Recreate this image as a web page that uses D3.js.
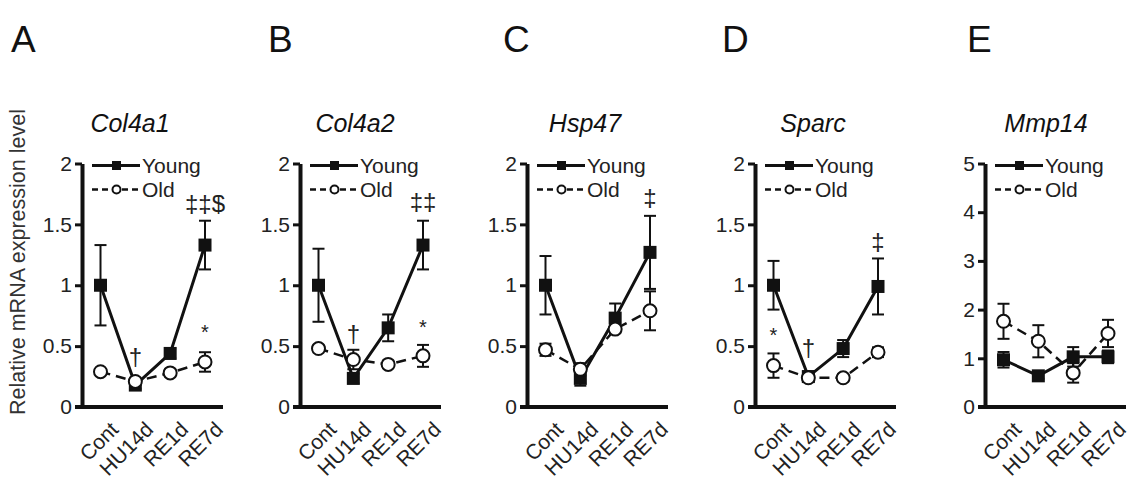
<!DOCTYPE html>
<html>
<head>
<meta charset="utf-8">
<script src="https://cdn.jsdelivr.net/npm/d3@7"></script>
<style>
  html, body { margin: 0; padding: 0; background: #fff; }
  svg { display: block; font-family: "Liberation Sans", Arial, sans-serif; }
</style>
</head>
<body>
<svg id="chart" width="1148" height="491"></svg>
<script>
// ---------- data ----------
const categories = ["Cont", "HU14d", "RE1d", "RE7d"];
const genes = ["Col4a1", "Col4a2", "Hsp47", "Sparc", "Mmp14"];
const panelLetters = ["A", "B", "C", "D", "E"];
const yMaxes = [2, 2, 2, 2, 5];
const yTicksSmall = [0, 0.5, 1, 1.5, 2];
const yTicksLarge = [0, 1, 2, 3, 4, 5];
const seriesNames = ["Young", "Old"];
const yLabel = "Relative mRNA expression level";

const youngMean = [
  [1.00, 0.18, 0.44, 1.33],
  [1.00, 0.235, 0.65, 1.33],
  [1.00, 0.235, 0.73, 1.27],
  [1.00, 0.25, 0.48, 0.99],
  [0.97, 0.64, 1.03, 1.03]
];
const youngErr = [
  [0.33, 0.03, 0.04, 0.20],
  [0.30, 0.04, 0.11, 0.20],
  [0.24, 0.06, 0.12, 0.30],
  [0.20, 0.04, 0.07, 0.23],
  [0.16, 0.06, 0.20, 0.13]
];
const oldMean = [
  [0.29, 0.21, 0.28, 0.37],
  [0.48, 0.39, 0.35, 0.42],
  [0.47, 0.31, 0.64, 0.79],
  [0.34, 0.24, 0.24, 0.45],
  [1.76, 1.35, 0.70, 1.51]
];
const oldErr = [
  [0.02, 0.03, 0.03, 0.08],
  [0.03, 0.08, 0.03, 0.09],
  [0.05, 0.05, 0.03, 0.16],
  [0.10, 0.03, 0.03, 0.04],
  [0.36, 0.33, 0.20, 0.28]
];
// significance marks: [text, category index, value position]
const marks = [
  [["\u2020", 1, 0.41], ["\u2021\u2021$", 3, 1.67], ["*", 3, 0.62]],
  [["\u2020", 1, 0.60], ["\u2021\u2021", 3, 1.69], ["*", 3, 0.66]],
  [["\u2021", 3, 1.72]],
  [["*", 0, 0.59], ["\u2020", 1, 0.49], ["\u2021", 3, 1.36]],
  []
];

// ---------- layout ----------
const axisXs = [82, 300, 527, 755, 985];
const letterXs = [11, 268, 503, 722, 967];
const titleXs = [130, 355, 585, 813, 1046];
const yBottom = 407, yTop = 163.5;
const ink = "#111";

const svg = d3.select("#chart");

// y-axis label
svg.append("text")
  .attr("transform", `translate(25,262) rotate(-90)`)
  .attr("text-anchor", "middle")
  .attr("font-size", 21.5)
  .attr("fill", "#333")
  .text(yLabel);

genes.forEach((gene, p) => {
  const ax = axisXs[p];
  const g = svg.append("g");
  const x = d3.scalePoint().domain(categories).range([ax + 18.5, ax + 123]);
  const y = d3.scaleLinear().domain([0, yMaxes[p]]).range([yBottom, yTop]);
  const ticks = p === 4 ? yTicksLarge : yTicksSmall;

  // panel letter
  g.append("text").attr("x", letterXs[p]).attr("y", 52)
    .attr("font-size", 37).attr("fill", ink).text(panelLetters[p]);
  // title
  g.append("text").attr("x", titleXs[p]).attr("y", 132)
    .attr("text-anchor", "middle").attr("font-size", 25)
    .attr("font-style", "italic").attr("fill", ink).text(gene);

  // y axis
  const yAxis = d3.axisLeft(y).tickValues(ticks).tickSize(7).tickPadding(3)
    .tickFormat(d3.format("~g")).tickSizeOuter(0);
  const ya = g.append("g").attr("transform", `translate(${ax},0)`).call(yAxis);
  ya.select(".domain").attr("stroke", ink).attr("stroke-width", 4);
  ya.selectAll(".tick line").attr("stroke", ink).attr("stroke-width", 3);
  ya.selectAll(".tick text").attr("font-size", 21).attr("fill", "#222")
    .attr("font-family", "Liberation Sans, Arial, sans-serif");

  // x axis
  const xAxis = d3.axisBottom(x).tickSize(0).tickPadding(0);
  const xa = g.append("g").attr("transform", `translate(0,${yBottom})`).call(xAxis);
  xa.select(".domain").remove();
  g.append("line").attr("x1", ax - 7).attr("x2", ax + 141)
    .attr("y1", yBottom).attr("y2", yBottom)
    .attr("stroke", ink).attr("stroke-width", 4);
  xa.selectAll(".tick text")
    .attr("font-size", 21).attr("fill", "#222")
    .attr("font-family", "Liberation Sans, Arial, sans-serif")
    .attr("text-anchor", "end")
    .attr("dy", null)
    .attr("transform", "translate(8,13) rotate(-45)")
    .attr("dominant-baseline", "hanging");

  // legend
  const lx0 = ax + 10, lx1 = ax + 58, ly = yTop + 2;
  g.append("line").attr("x1", lx0).attr("x2", lx1).attr("y1", ly).attr("y2", ly)
    .attr("stroke", ink).attr("stroke-width", 3);
  g.append("rect").attr("x", ax + 30).attr("y", ly - 4.5).attr("width", 9).attr("height", 9).attr("fill", ink);
  g.append("text").attr("x", lx1 + 2).attr("y", ly).attr("dy", "0.35em")
    .attr("font-size", 21).attr("fill", "#222").text(seriesNames[0]);
  const ly2 = ly + 24;
  g.append("line").attr("x1", lx0).attr("x2", lx1).attr("y1", ly2).attr("y2", ly2)
    .attr("stroke", ink).attr("stroke-width", 2.5).attr("stroke-dasharray", "6,4");
  g.append("circle").attr("cx", ax + 34.5).attr("cy", ly2).attr("r", 4)
    .attr("fill", "#fff").attr("stroke", ink).attr("stroke-width", 2);
  g.append("text").attr("x", lx1 + 2).attr("y", ly2).attr("dy", "0.35em")
    .attr("font-size", 21).attr("fill", "#222").text(seriesNames[1]);

  const series = [
    { mean: youngMean[p], err: youngErr[p], young: true },
    { mean: oldMean[p], err: oldErr[p], young: false }
  ];
  const line = d3.line().x((d, i) => x(categories[i])).y(d => y(d));

  series.forEach(s => {
    g.append("path").datum(s.mean).attr("d", line)
      .attr("fill", "none").attr("stroke", ink)
      .attr("stroke-width", s.young ? 3 : 2.5)
      .attr("stroke-dasharray", s.young ? null : "10,6");
    const eb = g.append("g").attr("stroke", ink).attr("stroke-width", 2);
    s.mean.forEach((m, i) => {
      const cx = x(categories[i]), e = s.err[i];
      eb.append("line").attr("x1", cx).attr("x2", cx).attr("y1", y(m - e)).attr("y2", y(m + e));
      eb.append("line").attr("x1", cx - 6).attr("x2", cx + 6).attr("y1", y(m + e)).attr("y2", y(m + e));
      eb.append("line").attr("x1", cx - 6).attr("x2", cx + 6).attr("y1", y(m - e)).attr("y2", y(m - e));
    });
    if (s.young) {
      g.selectAll(null).data(s.mean).enter().append("rect")
        .attr("x", (d, i) => x(categories[i]) - 6.5).attr("y", d => y(d) - 6.5)
        .attr("width", 13).attr("height", 13).attr("fill", ink);
    } else {
      g.selectAll(null).data(s.mean).enter().append("circle")
        .attr("cx", (d, i) => x(categories[i])).attr("cy", d => y(d)).attr("r", 6.5)
        .attr("fill", "#fff").attr("stroke", ink).attr("stroke-width", 2);
    }
  });

  marks[p].forEach(([t, i, v]) => {
    g.append("text").attr("x", x(categories[i])).attr("y", y(v)).attr("dy", "0.35em")
      .attr("text-anchor", "middle")
      .attr("font-size", t === "*" ? 20 : 24).attr("fill", "#222").text(t);
  });
});
</script>
</body>
</html>
